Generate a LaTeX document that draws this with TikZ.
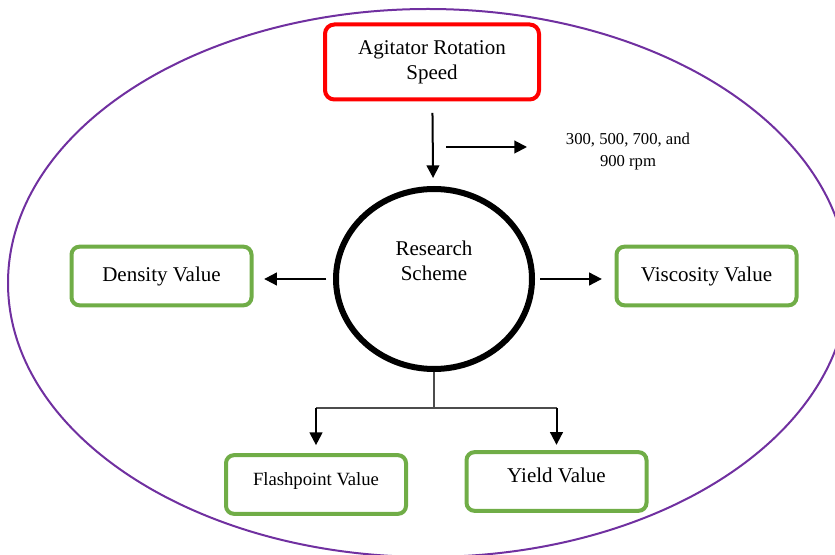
\documentclass[tikz,border=0pt]{standalone}
\usepackage{fontspec}
\setmainfont{Liberation Serif}
\usetikzlibrary{arrows.meta, positioning, shapes.geometric}

\definecolor{ringpurple}{HTML}{7030A0}
\definecolor{valgreen}{HTML}{70AD47}
\definecolor{speedred}{HTML}{FF0000}

\begin{document}
\begin{tikzpicture}[
		x=0.75pt, y=-0.75pt,
		outcome/.style={draw=valgreen, rectangle, rounded corners=6pt, line width=3pt, inner sep=0pt,
				minimum width=135pt, minimum height=44pt, font=\fontsize{15.75}{18.75}\selectfont},
		input/.style={draw=speedred, rectangle, rounded corners=7pt, line width=3pt, inner sep=0pt,
				minimum width=160.5pt, minimum height=56.25pt, align=center, font=\fontsize{15.75}{18.75}\selectfont},
		hub/.style={draw, ellipse, line width=4.5pt, inner sep=0pt, minimum width=147pt, minimum height=135pt,
				align=center, font=\fontsize{15.75}{18.75}\selectfont},
		arr/.style={-{Triangle[length=9.5pt,width=9.5pt]}, line width=1.5pt},
		branch/.style={draw=black!70, line width=1pt},
	]
	\useasboundingbox (0,0) rectangle (835,555);
	\clip (0,0) rectangle (835,555);

	% -- outer ring --
	\draw[ringpurple, line width=1.5pt] (428,283) ellipse [x radius=420, y radius=274];

	% -- all nodes --
	\node [input] (speed) at (432,62) {Agitator Rotation \\ Speed};
	\node [hub] (scheme) at (434,279) {Research \\ Scheme \\[9pt]};
	\node [align=center, inner sep=0pt, font=\fontsize{12.5}{16.5}\selectfont] (rpm) at (628,151)
	{300, 500, 700, and \\ 900 rpm};

	\node [outcome] (density) at (161.5,276) {Density Value};
	\node [outcome] (viscosity) at (706.5,276) {Viscosity Value};
	\node [outcome, text depth=8pt, font=\fontsize{14}{17}\selectfont] (flash) at (316,484.5) {Flashpoint Value};
	\node [outcome, text depth=9pt] (yield) at (556.5,481.5) {Yield Value};

	% -- speed edges --
	\draw[arr, shorten <=8.5pt, shorten >=6pt] (speed) -- (scheme);
	\coordinate (tap) at (446,147);
	\coordinate (tip) at (527,147);
	\draw[arr] (tap) -- (tip);

	% -- side edges --
	\draw[arr, shorten <=5pt, shorten >=8pt] (scheme.west) -- (scheme.west -| density.east);
	\draw[arr, shorten <=4pt, shorten >=9.5pt] (scheme.east) -- (scheme.east -| viscosity.west);

	% -- bottom edges --
	\coordinate (split) at (434,408);
	\draw[branch] (scheme.south) -- (split);
	\draw[branch] (split -| flash.north) -- (split -| yield.north);
	\draw[arr, shorten >=6pt] (split -| flash.north) -- (flash.north);
	\draw[arr, shorten >=4pt] (split -| yield.north) -- (yield.north);
\end{tikzpicture}
\end{document}
